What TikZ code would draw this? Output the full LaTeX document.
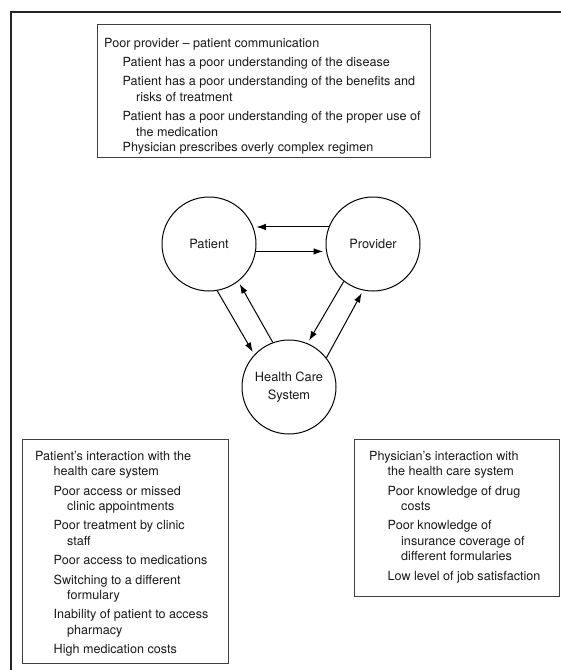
\documentclass[tikz,border=0pt]{standalone}
\usepackage{fontspec}
\setmainfont{TeX Gyre Heros}
\usetikzlibrary{arrows.meta}

% indents used inside the list boxes
\newcommand{\ind}{\hspace*{18.5pt}}
\newcommand{\indd}{\hspace*{32pt}}

\tikzset{
  frame/.style={line width=2.4pt, black!85},
  listbox/.style={draw=black!75, line width=0.8pt, inner sep=0pt, anchor=north west},
  listtext/.style={inner sep=0pt, anchor=north west, align=left, text=black!90,
    font=\fontsize{12.6}{15.5}\selectfont},
  actor/.style={draw, circle, line width=1pt, minimum size=94pt, inner sep=0pt,
    align=center, text=black!90, font=\fontsize{12.8}{18}\selectfont},
  flow/.style={-{Latex[length=9.5pt,width=6.5pt]}, line width=1pt, shorten >=3pt},
}

\begin{document}
\begin{tikzpicture}[x=1pt, y=-1pt]
  \useasboundingbox (0,0) rectangle (561,670);

  % --- outer frame, open on the right and at the bottom ---
  \draw[frame] (11,670) -- (11,12) -- (561,12);

  % --- top box: provider - patient communication ---
  \node[listbox, minimum width=333pt, minimum height=133pt] (commbox) at (97,24) {};
  \node[listtext] (commtext) at (104,38) {%
    Poor provider -- patient communication\\[3.8pt]
    \ind Patient has a poor understanding of the disease\\[3.8pt]
    \ind Patient has a poor understanding of the benefits and\\
    \indd risks of treatment\\[3.8pt]
    \ind Patient has a poor understanding of the proper use of\\
    \indd the medication\\
    \ind Physician prescribes overly complex regimen};

  % --- the three parties ---
  \node[actor] (patient) at (209,244) {Patient};
  \node[actor] (provider) at (373,244) {Provider};
  \node[actor] (hcs) at (289,387) {Health Care\\System};

  % --- arrows between the parties ---
  \draw[flow] (provider.159) -- (patient.21);
  \draw[flow] (patient.-9) -- (provider.189);
  \draw[flow] (patient.-80) -- (hcs.137);
  \draw[flow] (hcs.110) -- (patient.-52);
  \draw[flow] (provider.-128) -- (hcs.67);
  \draw[flow] (hcs.38) -- (provider.-102);

  % --- bottom left box: patient and health care system ---
  \node[listbox, minimum width=206pt, minimum height=224pt] (patbox) at (22,439) {};
  \node[listtext] (pattext) at (35,451) {%
    Patient's interaction with the\\
    \ind health care system\\[3.8pt]
    \ind Poor access or missed\\
    \indd clinic appointments\\[3.8pt]
    \ind Poor treatment by clinic\\
    \indd staff\\[3.8pt]
    \ind Poor access to medications\\[3.8pt]
    \ind Switching to a different\\
    \indd formulary\\[3.8pt]
    \ind Inability of patient to access\\
    \indd pharmacy\\[3.8pt]
    \ind High medication costs};

  % --- bottom right box: physician and health care system ---
  \node[listbox, minimum width=205pt, minimum height=157pt] (docbox) at (354,439) {};
  \node[listtext] (doctext) at (369,451) {%
    Physician's interaction with\\
    \ind the health care system\\[3.8pt]
    \ind Poor knowledge of drug\\
    \indd costs\\[3.8pt]
    \ind Poor knowledge of\\
    \indd insurance coverage of\\
    \indd different formularies\\[3.8pt]
    \ind Low level of job satisfaction};
\end{tikzpicture}
\end{document}
